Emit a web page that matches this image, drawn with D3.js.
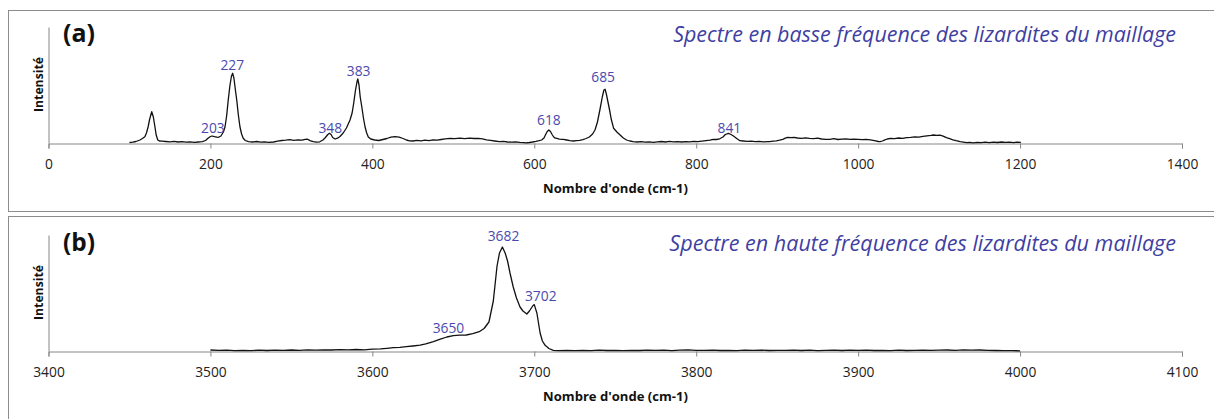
<!DOCTYPE html>
<html><head><meta charset="utf-8">
<script src="https://cdn.jsdelivr.net/npm/d3@7"></script>
<style>
html,body{margin:0;padding:0;background:#fff;}
svg{display:block;font-family:"Open Sans",sans-serif;}
</style></head>
<body><svg id="c" width="1214" height="419"></svg>
<script>
// ---------- DATA ----------
const xTicksA = [0, 200, 400, 600, 800, 1000, 1200, 1400];
const xTicksB = [3400, 3500, 3600, 3700, 3800, 3900, 4000, 4100];
const xA = [100,104,108,113,116,119,121,123,125,127.5,129.5,131.5,133,135,137,140,145,150,155,160,165,170,175,180,185,190,194,197,200,202,205,208,210,213,216,218,220,222,224,226,227.5,229,231,232.5,234.5,236.5,238.5,240.5,243,247,252,257,262,267,272,278,283,288,293,298,303,308,313,317,320,323,327,331,335,339,342,345,347,349,351,354,357,360,364,368,372.4,375,377,379,381,382,383.5,385,387,389,391,393,395,398,403,408,413,418,423,428,433,438,442,446,450,455,460,465,470,475,480,485,490,496,502,508,514,520,526,531,536,541,546,551,557,562,567,572,577,582,587,590,594,598,602,606,609,612,614,616,618,620,622,624,626,628,631,634,636,640,644,648,652,656,660,664,668,672,675,678,681,684,686,687.5,689,691,693,695,698,702,706,710,714,718,722,727,732,737,742,747,752,757,762,767,772,777,782,787,792,797,802,807,812,817,821,825,829,833,836,839.7,843,846,850,854,858,863,868,873,878,883,888,891,895,899,903,907,910,913,917,921,925,930,935,940,945,950,955,960,965,970,975,980,985,990,995,1000,1005,1010,1015,1020,1025,1027,1030,1033,1036,1040,1045,1050,1055,1060,1065,1070,1075,1080,1085,1090,1093,1097,1101,1105,1109,1113,1117,1121,1126,1130,1134,1138,1142,1147,1152,1157,1162,1167,1172,1177,1182,1187,1192,1196,1201];
const yA = [0.5,0.8,1.5,3,4.5,6.3,10,16,24,31.3,26,16,8,3,2,1.8,1.5,1.2,1.6,1.0,1.3,0.8,1.1,0.7,1.0,1.3,2.5,4.7,6.5,7,6.3,5.8,5.7,7,11,16,27,43,57,67,69.7,65,52,43,28,16,9,4.7,2.5,1.3,1.0,1.5,0.8,1.2,0.6,1.0,1.8,2.5,2.8,3.3,2.6,3.2,2.8,3.6,3.8,2.4,1.4,0.8,1.2,3,5.5,8.5,9.7,8.5,5.5,4,4.8,6.5,10,15,23,30,40,52,61,64,58,46,36,25,16,10,6,4,3,2.5,3.5,4.5,5.8,6.3,5.8,4.5,3,2.2,2,2.6,2.2,2.8,2.4,3.2,2.8,3.5,4.2,4.7,4.3,4.9,4.4,4.8,4.5,4.7,4.2,3.2,2.6,2.0,1.3,1.6,1.0,0.8,1.2,0.6,0.4,0.2,0.5,1,1.6,2.3,3,5,8.5,11.5,13,11.5,8.5,6,4.8,4.6,3.9,3.7,3.7,3,2.3,2,2.4,2.6,3.4,4.5,6,9,13,21,33,46,53,53.7,49,41,33,24,14.7,11,8,5,3,2,1.4,1.0,1.4,0.8,1.1,0.7,1.2,1.5,1.0,1.6,1.1,1.4,1.0,1.3,1.2,1.6,1.3,1.9,2.4,2.8,3.7,3.5,4.2,6,8.5,9.7,8.5,7,4.5,2.3,2,1.6,1.8,1.4,1.7,1.2,1.4,1.3,1.8,2.2,2.8,3.6,4.8,5.7,5.3,5.6,5.0,4.6,5.2,4.7,4.3,4.8,4.0,3.7,3.6,4.3,3.5,3.9,4.2,3.7,3.9,3.7,3.3,3.6,3.1,2.3,1.5,1.3,2.0,3.2,4.0,4.7,4.3,5.0,4.6,5.4,5.6,6.1,5.9,6.6,7.2,7.6,8,7.7,7.9,6.8,5.3,4.3,3.2,2.3,1.3,0.9,0.3,0.6,0.2,0.7,0.4,0.8,0.3,0.9,0.5,1.0,0.6,0.9,0.4,0.8,0.6];
const xB = [3500,3505,3510,3515,3520,3525,3530,3535,3540,3545,3550,3555,3560,3565,3570,3575,3580,3585,3590,3595,3600,3605,3609,3613,3617,3621,3625,3629.5,3633,3637.7,3642,3646,3650,3654,3658,3662,3666,3669,3672,3674.7,3677,3678.5,3680.3,3682,3683.5,3685,3687,3689,3691.2,3693,3695.4,3697,3699,3700,3701.6,3703.6,3705,3706.7,3709,3711.8,3715,3720,3725,3730,3735,3740,3745,3750,3755,3760,3765,3770,3775,3780,3785,3790,3795,3800,3805,3810,3815,3820,3825,3830,3835,3840,3845,3850,3855,3860,3865,3870,3875,3880,3885,3890,3895,3900,3905,3910,3915,3920,3925,3930,3935,3940,3945,3950,3955,3960,3965,3970,3975,3980,3985,3990,3995,4000];
const yB = [1,0.6,0.9,0.4,0.7,0.3,0.8,0.5,0.9,0.6,1.0,0.7,1.1,0.8,1.2,1.0,1.4,1.1,1.5,1.2,1.8,2.2,2.7,3.3,3.7,4.4,5,5.8,7.2,9.3,11.8,14,15.3,15.8,16,17.3,19.3,22.5,29,50,85,98,104,98,90,78,64,53,44,40,37,40,45,46.4,38,18,10,5.7,2.5,0.7,0.4,0.6,0.3,0.7,0.4,0.8,0.5,0.6,0.3,0.7,0.5,0.9,0.6,0.8,0.4,0.9,1.1,0.7,0.6,0.9,0.5,0.7,0.4,0.8,0.6,0.9,0.5,0.7,0.6,0.8,0.5,0.9,0.4,0.6,0.8,0.5,0.9,0.6,0.8,0.5,0.7,0.4,0.8,0.5,0.7,0.9,0.6,0.8,1.0,0.7,1.1,0.8,1.0,0.7,0.5,0.4,0.3,0.2];
const peakLabelsA = ["203","227","348","383","618","685","841"];
const peakXA = [203, 227, 348, 383, 618, 685, 841];
const peakYA = [16, 79, 16, 73, 24, 67, 16];
const peakLabelsB = ["3650","3682","3702"];
const peakXB = [3647, 3681, 3704];
const peakYB = [23.7, 116, 56];
const titles = ["Spectre en basse fréquence des lizardites du maillage",
                "Spectre en haute fréquence des lizardites du maillage"];
const panelTags = ["(a)", "(b)"];
const xTitle = "Nombre d'onde (cm-1)";
const yTitle = "Intensité";

// ---------- DRAW ----------
const svg = d3.select("#c");
const blue = "#3f3fa3";
const labelBlue = "#4a4aae";

function fit(sel, w) {
  const fs = parseFloat(sel.attr("font-size"));
  const len = sel.node().getComputedTextLength();
  sel.attr("font-size", (fs * w / len).toFixed(2));
}

const panels = [
  {top: 0, xs: xA, ys: yA, ticks: xTicksA, dom: [0, 1400], labs: peakLabelsA, lx: peakXA, ly: peakYA,
   base: 143, ytop: 27, frame: [8.5, 10.5, 1230, 201], titleW: 503, titleY: 33},
  {top: 208, xs: xB, ys: yB, ticks: xTicksB, dom: [3400, 4100], labs: peakLabelsB, lx: peakXB, ly: peakYB,
   base: 351, ytop: 235, frame: [8.5, 216.5, 1230, 240], titleW: 507, titleY: 242}
];

panels.forEach((p, i) => {
  const g = svg.append("g");
  g.append("rect").attr("x", p.frame[0]).attr("y", p.frame[1])
    .attr("width", p.frame[2]).attr("height", p.frame[3])
    .attr("fill", "#fff").attr("stroke", "#8c8c8c").attr("stroke-width", 1);

  const x = d3.scaleLinear().domain(p.dom).range([48.5, 1182]);
  const y = d3.scaleLinear().domain([0, 116]).range([p.base, p.ytop]);

  const ya = g.append("g").attr("transform", `translate(48.5,0)`)
    .call(d3.axisLeft(y).tickValues([]).tickSizeOuter(0));
  ya.select(".domain").attr("stroke", "#868686");

  const xa = g.append("g").attr("transform", `translate(0,${p.base + 0.5})`)
    .call(d3.axisBottom(x).tickValues(p.ticks).tickFormat(d3.format("d")).tickSizeOuter(0).tickSize(5).tickPadding(11));
  xa.select(".domain").attr("stroke", "#868686");
  xa.selectAll(".tick line").attr("stroke", "#868686");
  xa.selectAll(".tick text").attr("font-size", 13.8).attr("fill", "#222")
    .attr("font-family", "'Open Sans', sans-serif");

  const pts = p.xs.map((v, k) => [v, p.ys[k]]);
  g.append("path").datum(pts)
    .attr("d", d3.line().x(d => x(d[0])).y(d => y(d[1])))
    .attr("fill", "none").attr("stroke", "#111").attr("stroke-width", 1.3)
    .attr("stroke-linejoin", "round");

  p.labs.forEach((t, k) => {
    g.append("text").attr("x", x(p.lx[k])).attr("y", y(p.ly[k]))
      .attr("text-anchor", "middle").attr("dominant-baseline", "central")
      .attr("font-size", 13.8).attr("fill", labelBlue).text(t);
  });

  const tag = g.append("text").attr("x", 63).attr("y", p.titleY + 9)
    .attr("font-size", 24).attr("font-weight", "bold").attr("fill", "#111").text(panelTags[i]);
  fit(tag, 32);

  const tt = g.append("text").attr("x", 1176).attr("y", p.titleY)
    .attr("text-anchor", "end").attr("dominant-baseline", "central")
    .attr("font-style", "italic").attr("font-size", 20).attr("fill", blue).text(titles[i]);
  fit(tt, p.titleW);

  const xt = g.append("text").attr("x", 615.5).attr("y", p.base + 45)
    .attr("text-anchor", "middle").attr("dominant-baseline", "central")
    .attr("font-weight", "bold").attr("font-size", 12).attr("fill", "#111").text(xTitle);
  fit(xt, 145);
  const yt = g.append("text")
    .attr("transform", `translate(38,${(p.base + p.ytop) / 2 - 0.5}) rotate(-90)`)
    .attr("text-anchor", "middle").attr("dominant-baseline", "central")
    .attr("font-weight", "bold").attr("font-size", 11).attr("fill", "#111").text(yTitle);
  fit(yt, 55);
});
</script></body></html>
